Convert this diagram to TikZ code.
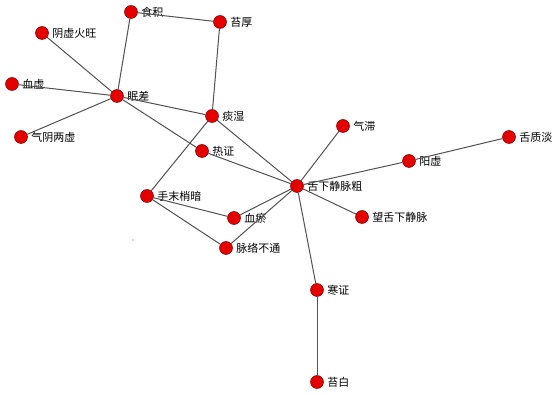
\documentclass[tikz,border=0pt]{standalone}
\usepackage{fontspec}
\newfontfamily\cjk{Noto Sans CJK SC}
\begin{document}
\begin{tikzpicture}[x=1pt,y=-1pt,
  dot/.style={circle,fill=red!90!black,draw=red!50!black,line width=0.5pt,minimum size=13pt,inner sep=0pt,
    label={[label distance=0pt,font=\cjk\fontsize{11}{12}\selectfont,text=black]right:#1}},
  edge/.style={draw=black!68,line width=1pt}]
\useasboundingbox (0,0) rectangle (552,395);
\fill[white] (0,0) rectangle (552,395);
\node[dot=食积] (shiji) at (131,12) {};
\node[dot=苔厚] (taihou) at (220,22) {};
\node[dot=阴虚火旺] (yinxu) at (42,33) {};
\node[dot=血虚] (xuexu) at (12,84) {};
\node[dot=眠差] (mian) at (117,96) {};
\node[dot=气阴两虚] (qiyin) at (21,137) {};
\node[dot=痰湿] (tanshi) at (212,116) {};
\node[dot=热证] (re) at (202,151) {};
\node[dot=气滞] (qizhi) at (343,126) {};
\node[dot=阳虚] (yangxu) at (409,161) {};
\node[dot=舌质淡] (shezhi) at (509,137) {};
\node[dot=舌下静脉粗] (shexia) at (297,186) {};
\node[dot=手末梢暗] (shou) at (147,196) {};
\node[dot=血瘀] (xueyu) at (234,218) {};
\node[dot=望舌下静脉] (wang) at (362,217) {};
\node[dot=脉络不通] (mailuo) at (226,248) {};
\node[dot=寒证] (han) at (317,290) {};
\node[dot=苔白] (taibai) at (317,382) {};
\fill[black!60] (133,240) circle (0.7pt);
\foreach \a/\b in {shiji/taihou,shiji/mian,taihou/tanshi,yinxu/mian,xuexu/mian,qiyin/mian,
  mian/tanshi,mian/re,re/shexia,tanshi/shexia,tanshi/shou,shou/xueyu,shou/mailuo,
  xueyu/shexia,mailuo/shexia,shexia/qizhi,shexia/yangxu,yangxu/shezhi,shexia/wang,
  shexia/han,han/taibai}
  \draw[edge] (\a) -- (\b);
\end{tikzpicture}
\end{document}
